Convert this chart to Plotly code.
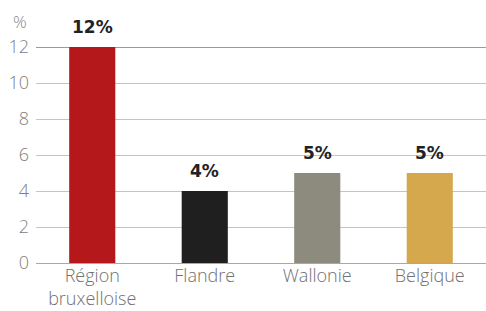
import plotly.graph_objects as go

categories = ["Région<br>bruxelloise", "Flandre", "Wallonie", "Belgique"]
values = [12, 4, 5, 5]
value_labels = ["12%", "4%", "5%", "5%"]
colors = ["#b5181b", "#1f1f1f", "#8c8b7d", "#d6a84e"]
y_ticks = [0, 2, 4, 6, 8, 10, 12]
y_max = 12

fig = go.Figure()
fig.add_trace(go.Bar(
    x=categories, y=values,
    marker=dict(color=colors, line=dict(width=0)),
    width=0.41,
))

for c, v, lab in zip(categories, values, value_labels):
    fig.add_annotation(x=c, y=v, text=f"<b>{lab}</b>", showarrow=False,
                       yanchor="bottom", yshift=8,
                       font=dict(family="DejaVu Sans", size=17, color="#222222"))

fig.add_shape(type="line", xref="paper", yref="y", x0=0, x1=1, y0=y_max, y1=y_max,
              line=dict(color="#7a7a7a", width=1.5), layer="below")

fig.add_annotation(text="%", xref="paper", yref="paper", x=0, y=1, xanchor="right",
                   yanchor="bottom", xshift=-7, yshift=12, showarrow=False,
                   font=dict(family="Open Sans", size=17, color="#888888", weight=300))

fig.update_layout(
    width=486, height=311,
    margin=dict(l=36, r=0, t=47, b=48),
    paper_bgcolor="white", plot_bgcolor="white",
    showlegend=False,
    bargap=0.59,
    xaxis=dict(
        tickfont=dict(family="Open Sans", size=18, color="#707070", weight=300),
        showline=False, showgrid=False, zeroline=False,
        ticks="", ticklabelstandoff=0, automargin=False,
    ),
    yaxis=dict(
        range=[0, y_max], tickvals=y_ticks, ticktext=[str(t) for t in y_ticks],
        tickfont=dict(family="Open Sans", size=18, color="#808080", weight=300),
        showgrid=True, gridcolor="#c4c4c4", gridwidth=1.2,
        zeroline=True, zerolinecolor="#a8a8a8", zerolinewidth=1.2,
        showline=False, ticks="", ticklabelstandoff=6, automargin=False,
    ),
)

fig.write_html("out.html", config={"displayModeBar": False},
               post_script="document.body.style.margin='0';document.body.style.overflow='hidden';")
